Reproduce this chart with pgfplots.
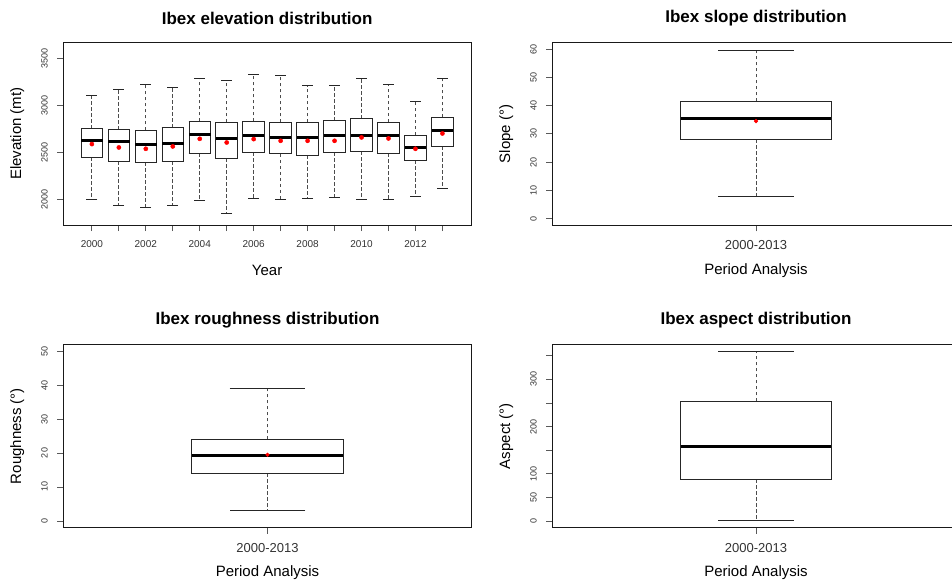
\documentclass[border=0pt]{standalone}
\usepackage{fontspec}
\setmainfont{Liberation Sans}
\usepackage{pgfplots}
\usepackage{pgfplotstable}
\pgfplotsset{compat=1.18}

% pos lw q1 med q3 uw mean
\pgfplotstableread{
pos lw q1 med q3 uw mean
1 2000 2450 2628 2752 3106 2589
2 1933 2404 2613 2741 3167 2553
3 1915 2397 2582 2734 3223 2539
4 1933 2404 2599 2762 3188 2564
5 1989 2493 2695 2830 3291 2645
6 1848 2436 2652 2819 3262 2606
7 2011 2500 2684 2830 3326 2642
8 2000 2486 2663 2819 3319 2624
9 2011 2468 2663 2819 3209 2624
10 2021 2500 2684 2840 3209 2624
11 2000 2511 2684 2858 3284 2660
12 2000 2493 2684 2823 3223 2649
13 2028 2415 2557 2684 3046 2539
14 2113 2564 2730 2872 3284 2702
}\elev
\pgfplotstableread{
pos lw q1 med q3 uw mean
1 7.9 28.0 35.5 41.5 59.5 34.5
}\slope
\pgfplotstableread{
pos lw q1 med q3 uw mean
1 3.1 14.0 19.3 24.0 39.0 19.5
}\rough
\pgfplotstableread{
pos lw q1 med q3 uw
1 0 88.3 158.8 253.4 358.5
}\aspect

\pgfplotsset{
  ibex/.style={
    scale only axis,
    axis line style={black!90, line width=0.9pt},
    tick pos=left, tick align=outside,
    major tick length=6pt,
    tick style={black!65, line width=0.8pt},
    xticklabel shift=6pt,
    yticklabel shift=6pt,
    xticklabel style={font=\fontsize{10}{12}\selectfont, text=black!80},
    yticklabel style={font=\fontsize{9}{11}\selectfont, text=black!80, rotate=90, anchor=south},
    title style={at={(axis description cs:0.5,1)}, anchor=center, yshift=18pt, font=\fontsize{17}{20}\selectfont\bfseries},
    xlabel style={at={(axis description cs:0.5,0)}, anchor=center, yshift=-45pt, font=\fontsize{15}{18}\selectfont},
    ylabel style={at={(axis description cs:0,0.5)}, anchor=center, yshift=46pt, font=\fontsize{15}{18}\selectfont},
  },
  single/.style={
    ibex,
    xmin=0.46, xmax=1.54,
    xtick={1}, xticklabels={2000-2013},
    xticklabel style={font=\fontsize{13}{15}\selectfont},
    xlabel={Period Analysis},
  },
  whisklo/.style={draw=none, mark=none,
    error bars/.cd, y dir=minus, y explicit,
    error bar style={draw=black!70, line width=0.8pt, dash pattern=on 3.5pt off 2.5pt},
    error mark=|, error mark options={solid, draw=black!85, line width=0.9pt, mark size=#1}},
  whiskhi/.style={draw=none, mark=none,
    error bars/.cd, y dir=plus, y explicit,
    error bar style={draw=black!70, line width=0.8pt, dash pattern=on 3.5pt off 2.5pt},
    error mark=|, error mark options={solid, draw=black!85, line width=0.9pt, mark size=#1}},
  boxside/.style={draw=none, mark=none,
    error bars/.cd, y dir=plus, y explicit,
    error bar style={draw=black!85, line width=0.9pt, line cap=rect},
    error mark=none},
  boxedge/.style={draw=none, mark=none,
    error bars/.cd, x dir=both, x fixed=#1,
    error bar style={draw=black!85, line width=0.9pt, line cap=rect},
    error mark=none},
  boxmed/.style={draw=none, mark=none,
    error bars/.cd, x dir=both, x fixed=#1,
    error bar style={draw=black, line width=3pt},
    error mark=none},
  meanpt/.style={only marks, mark=*, mark size=#1, red, mark options={fill=red, draw=red}},
}

\begin{document}
\begin{tikzpicture}
\path[use as bounding box] (0,0) rectangle (952pt,-582pt);
\clip (0,0) rectangle (952pt,-582pt);

% Elevation
\begin{axis}[ibex,
  at={(63.3pt,-225pt)}, anchor=south west,
  width=407.7pt, height=182.7pt,
  xmin=-0.06, xmax=15.06, ymin=1728, ymax=3672,
  xtick={1,...,14},
  xticklabels={2000,,2002,,2004,,2006,,2008,,2010,,2012,},
  ytick={2000,2500,3000,3500}, yticklabels={2000,2500,3000,3500},
  title={Ibex elevation distribution}, xlabel={Year}, ylabel={Elevation (mt)}]
\addplot[whisklo=5.4pt] table[x=pos, y=q1, y error minus expr=\thisrow{q1}-\thisrow{lw}] {\elev};
\addplot[whiskhi=5.4pt] table[x=pos, y=q3, y error plus expr=\thisrow{uw}-\thisrow{q3}] {\elev};
\addplot[boxside] table[x expr=\thisrow{pos}-0.4, y=q1, y error plus expr=\thisrow{q3}-\thisrow{q1}] {\elev};
\addplot[boxside] table[x expr=\thisrow{pos}+0.4, y=q1, y error plus expr=\thisrow{q3}-\thisrow{q1}] {\elev};
\addplot[boxedge=0.4] table[x=pos, y=q1] {\elev};
\addplot[boxedge=0.4] table[x=pos, y=q3] {\elev};
\addplot[boxmed=0.4] table[x=pos, y=med] {\elev};
\addplot[meanpt=2.1pt] table[x=pos, y=mean] {\elev};
\end{axis}

% Slope
\begin{axis}[single,
  at={(552.3pt,-225.3pt)}, anchor=south west,
  width=407.4pt, height=183pt,
  ymin=-2.4, ymax=62.4,
  ytick={0,10,...,60}, yticklabels={0,10,20,30,40,50,60},
  title={Ibex slope distribution}, ylabel={Slope (°)}]
\addplot[whisklo=37.7pt] table[x=pos, y=q1, y error minus expr=\thisrow{q1}-\thisrow{lw}] {\slope};
\addplot[whiskhi=37.7pt] table[x=pos, y=q3, y error plus expr=\thisrow{uw}-\thisrow{q3}] {\slope};
\addplot[boxside] table[x expr=\thisrow{pos}-0.2, y=q1, y error plus expr=\thisrow{q3}-\thisrow{q1}] {\slope};
\addplot[boxside] table[x expr=\thisrow{pos}+0.2, y=q1, y error plus expr=\thisrow{q3}-\thisrow{q1}] {\slope};
\addplot[boxedge=0.2] table[x=pos, y=q1] {\slope};
\addplot[boxedge=0.2] table[x=pos, y=q3] {\slope};
\addplot[boxmed=0.2] table[x=pos, y=med] {\slope};
\addplot[meanpt=1.9pt] table[x=pos, y=mean] {\slope};
\end{axis}

% Roughness
\begin{axis}[single,
  at={(63.3pt,-527.7pt)}, anchor=south west,
  width=408.4pt, height=183.4pt,
  ymin=-2, ymax=52,
  ytick={0,10,...,50}, yticklabels={0,10,20,30,40,50},
  title={Ibex roughness distribution}, ylabel={Roughness (°)}]
\addplot[whisklo=37.8pt] table[x=pos, y=q1, y error minus expr=\thisrow{q1}-\thisrow{lw}] {\rough};
\addplot[whiskhi=37.8pt] table[x=pos, y=q3, y error plus expr=\thisrow{uw}-\thisrow{q3}] {\rough};
\addplot[boxside] table[x expr=\thisrow{pos}-0.2, y=q1, y error plus expr=\thisrow{q3}-\thisrow{q1}] {\rough};
\addplot[boxside] table[x expr=\thisrow{pos}+0.2, y=q1, y error plus expr=\thisrow{q3}-\thisrow{q1}] {\rough};
\addplot[boxedge=0.2] table[x=pos, y=q1] {\rough};
\addplot[boxedge=0.2] table[x=pos, y=q3] {\rough};
\addplot[boxmed=0.2] table[x=pos, y=med] {\rough};
\addplot[meanpt=1.9pt] table[x=pos, y=mean] {\rough};
\end{axis}

% Aspect
\begin{axis}[single,
  at={(552.3pt,-527.7pt)}, anchor=south west,
  width=407.4pt, height=183.4pt,
  ymin=-14.4, ymax=374.4,
  ytick={0,50,...,350}, yticklabels={0,50,100,,200,,300,},
  title={Ibex aspect distribution}, ylabel={Aspect (°)}]
\addplot[whisklo=37.7pt] table[x=pos, y=q1, y error minus expr=\thisrow{q1}-\thisrow{lw}] {\aspect};
\addplot[whiskhi=37.7pt] table[x=pos, y=q3, y error plus expr=\thisrow{uw}-\thisrow{q3}] {\aspect};
\addplot[boxside] table[x expr=\thisrow{pos}-0.2, y=q1, y error plus expr=\thisrow{q3}-\thisrow{q1}] {\aspect};
\addplot[boxside] table[x expr=\thisrow{pos}+0.2, y=q1, y error plus expr=\thisrow{q3}-\thisrow{q1}] {\aspect};
\addplot[boxedge=0.2] table[x=pos, y=q1] {\aspect};
\addplot[boxedge=0.2] table[x=pos, y=q3] {\aspect};
\addplot[boxmed=0.2] table[x=pos, y=med] {\aspect};
\end{axis}
\end{tikzpicture}
\end{document}
